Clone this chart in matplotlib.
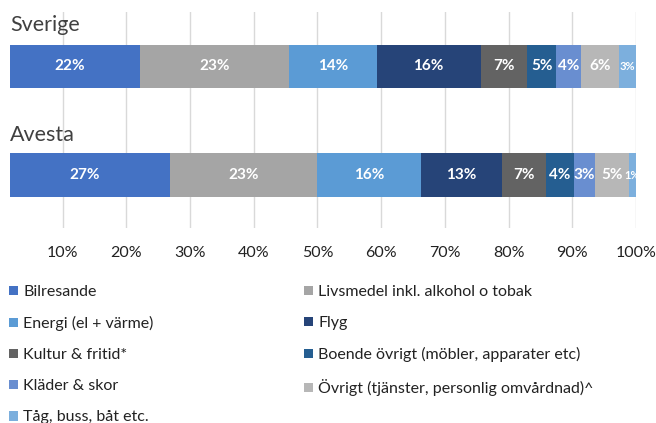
import matplotlib
matplotlib.use("Agg")
import matplotlib.pyplot as plt
from matplotlib.patches import Patch
import numpy as np

plt.rcParams['font.family'] = ['Lato', 'DejaVu Sans']

regions = ["Sverige", "Avesta"]
categories = ["Bilresande", "Livsmedel inkl. alkohol o tobak", "Energi (el + värme)", "Flyg",
              "Kultur & fritid*", "Boende övrigt (möbler, apparater etc)", "Kläder & skor",
              "Övrigt (tjänster, personlig omvårdnad)^", "Tåg, buss, båt etc."]
sverige = [22.2, 23.4, 13.7, 16.3, 7.3, 4.6, 3.9, 6.0, 2.6]
avesta = [26.9, 23.0, 16.4, 12.7, 6.9, 4.3, 3.4, 5.3, 1.1]
sverige_labels = ["22%", "23%", "14%", "16%", "7%", "5%", "4%", "6%", "3%"]
avesta_labels = ["27%", "23%", "16%", "13%", "7%", "4%", "3%", "5%", "1%"]
colors = ["#4472C4", "#A5A5A5", "#5B9BD5", "#264478", "#636363",
          "#255E91", "#698ED0", "#B7B7B7", "#7CAFDD"]
xticks = [10, 20, 30, 40, 50, 60, 70, 80, 90, 100]
xtick_labels = ["10%", "20%", "30%", "40%", "50%", "60%", "70%", "80%", "90%", "100%"]

W, H = 656, 423
fig = plt.figure(figsize=(W / 100, H / 100), dpi=100)
# axes pixel box: x 10..636, y 12..228 (from top)
ax = fig.add_axes([10 / W, 1 - 228 / H, (636 - 10) / W, (228 - 12) / H])

ypos = {"Sverige": 1.0, "Avesta": 0.0}
bar_h = 0.40
for reg, vals, labs in [("Sverige", sverige, sverige_labels), ("Avesta", avesta, avesta_labels)]:
    left = 0.0
    y = ypos[reg]
    for v, lab, c in zip(vals, labs, colors):
        ax.barh(y, v, left=left, height=bar_h, color=c, zorder=3)
        fs = 11 if v >= 3.0 else 8
        ax.text(left + v / 2, y, lab, ha='center', va='center', color='white',
                fontsize=fs, fontweight='bold', zorder=4, clip_on=True)
        left += v

ax.set_xlim(1.76, 100)
ax.set_ylim(-0.488, 1.502)
ax.set_xticks(xticks)
ax.set_xticklabels(xtick_labels, fontsize=11.5, color='#222222')
ax.tick_params(axis='x', length=0, pad=13)
ax.set_yticks([])
ax.grid(axis='x', color='#D9D9D9', linewidth=1, zorder=0)
for s in ax.spines.values():
    s.set_visible(False)

# region titles
ax.text(0.0, 1.38, "Sverige", transform=ax.get_yaxis_transform(), fontsize=15.5,
        color='#404040', ha='left', va='center')
ax.text(0.0, 0.37, "Avesta", transform=ax.get_yaxis_transform(), fontsize=15.5,
        color='#404040', ha='left', va='center')

handles = [Patch(facecolor=c, edgecolor='none') for c in colors]
order = [0, 2, 4, 6, 8, 1, 3, 5, 7]
leg = fig.legend([handles[i] for i in order], [categories[i] for i in order],
                 ncol=2, loc='upper left', bbox_to_anchor=(9 / W, 1 - 285 / H),
                 frameon=False, fontsize=11.5, handlelength=0.55, handleheight=0.55,
                 handletextpad=0.35, labelspacing=1.07, columnspacing=9.4,
                 labelcolor='#222222', borderaxespad=0, borderpad=0)

fig.savefig("out.png", dpi=100)
